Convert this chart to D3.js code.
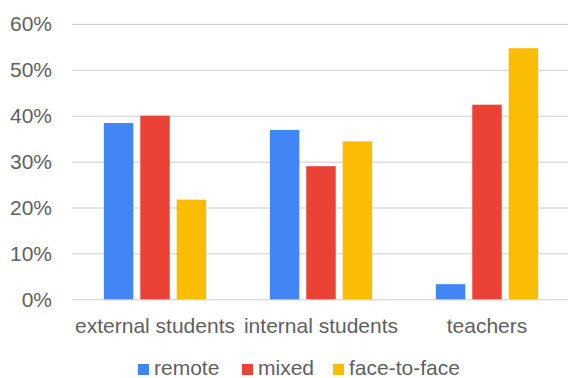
<!DOCTYPE html>
<html>
<head>
<meta charset="utf-8">
<script src="https://cdn.jsdelivr.net/npm/d3@7"></script>
<style>
  body { margin: 0; background: #fff; }
  text { font-family: "Liberation Sans", Arial, sans-serif; }
</style>
</head>
<body>
<script>
var categories = ["external students", "internal students", "teachers"];
var series = ["remote", "mixed", "face-to-face"];
var remote = [0.384, 0.369, 0.033];
var mixed = [0.400, 0.290, 0.424];
var faceToFace = [0.217, 0.344, 0.547];
var yTicks = [0, 0.1, 0.2, 0.3, 0.4, 0.5, 0.6];
var colors = ["#4285F4", "#EA4335", "#FBBC04"];

var w = 568;
var h = 378;
var plotLeft = 72, plotRight = 570, plotTop = 23.9, plotBottom = 299.3;
var fontSize = "21px";

var values = [remote, mixed, faceToFace];

var svg = d3.select("body")
	.append("svg")
	.attr("width", w)
	.attr("height", h);

var y = d3.scaleLinear()
	.domain([0, 0.6])
	.range([plotBottom, plotTop]);

var x0 = d3.scaleBand()
	.domain(categories)
	.range([plotLeft, plotRight]);

var x1 = d3.scaleBand()
	.domain(series)
	.range([0, x0.bandwidth()])
	.paddingInner(0.19)
	.paddingOuter(0.876);

// y axis with gridlines
var yAxis = svg.append("g")
	.attr("transform", "translate(" + plotLeft + ",0)")
	.call(d3.axisLeft(y)
		.tickValues(yTicks)
		.tickFormat(d3.format(".0%"))
		.tickSize(-(w - plotLeft))
		.tickPadding(20));
yAxis.select(".domain").remove();
yAxis.selectAll("line")
	.attr("stroke", "#cccccc")
	.attr("stroke-width", 1);
yAxis.selectAll("text")
	.attr("fill", "#5f5f5f")
	.attr("font-size", fontSize)
	.attr("font-family", "Liberation Sans, Arial, sans-serif");

// bars
var groups = svg.selectAll("g.group")
	.data(categories)
	.enter()
	.append("g")
	.attr("class", "group")
	.attr("transform", function(d) {
		return "translate(" + x0(d) + ",0)";
	});

groups.selectAll("rect")
	.data(function(d, i) {
		return series.map(function(s, j) {
			return { key: s, value: values[j][i], color: colors[j] };
		});
	})
	.enter()
	.append("rect")
	.attr("x", function(d) { return x1(d.key); })
	.attr("y", function(d) { return y(d.value); })
	.attr("width", x1.bandwidth())
	.attr("height", function(d) { return y(0) - y(d.value); })
	.attr("fill", function(d) { return d.color; });

// category axis
var xAxis = svg.append("g")
	.attr("transform", "translate(0," + plotBottom + ")")
	.call(d3.axisBottom(x0).tickSize(0).tickPadding(19));
xAxis.select(".domain").remove();
xAxis.selectAll("text")
	.attr("fill", "#5f5f5f")
	.attr("font-size", fontSize)
	.attr("font-family", "Liberation Sans, Arial, sans-serif");

// legend
var legendX = [138, 242, 333];
var legend = svg.selectAll("g.legend")
	.data(series)
	.enter()
	.append("g")
	.attr("class", "legend")
	.attr("transform", function(d, i) {
		return "translate(" + legendX[i] + ",364)";
	});

legend.append("rect")
	.attr("width", 11)
	.attr("height", 11)
	.attr("fill", function(d, i) { return colors[i]; });

legend.append("text")
	.text(function(d) { return d; })
	.attr("x", 16)
	.attr("y", 11)
	.attr("fill", "#5f5f5f")
	.attr("font-size", fontSize);
</script>
</body>
</html>
